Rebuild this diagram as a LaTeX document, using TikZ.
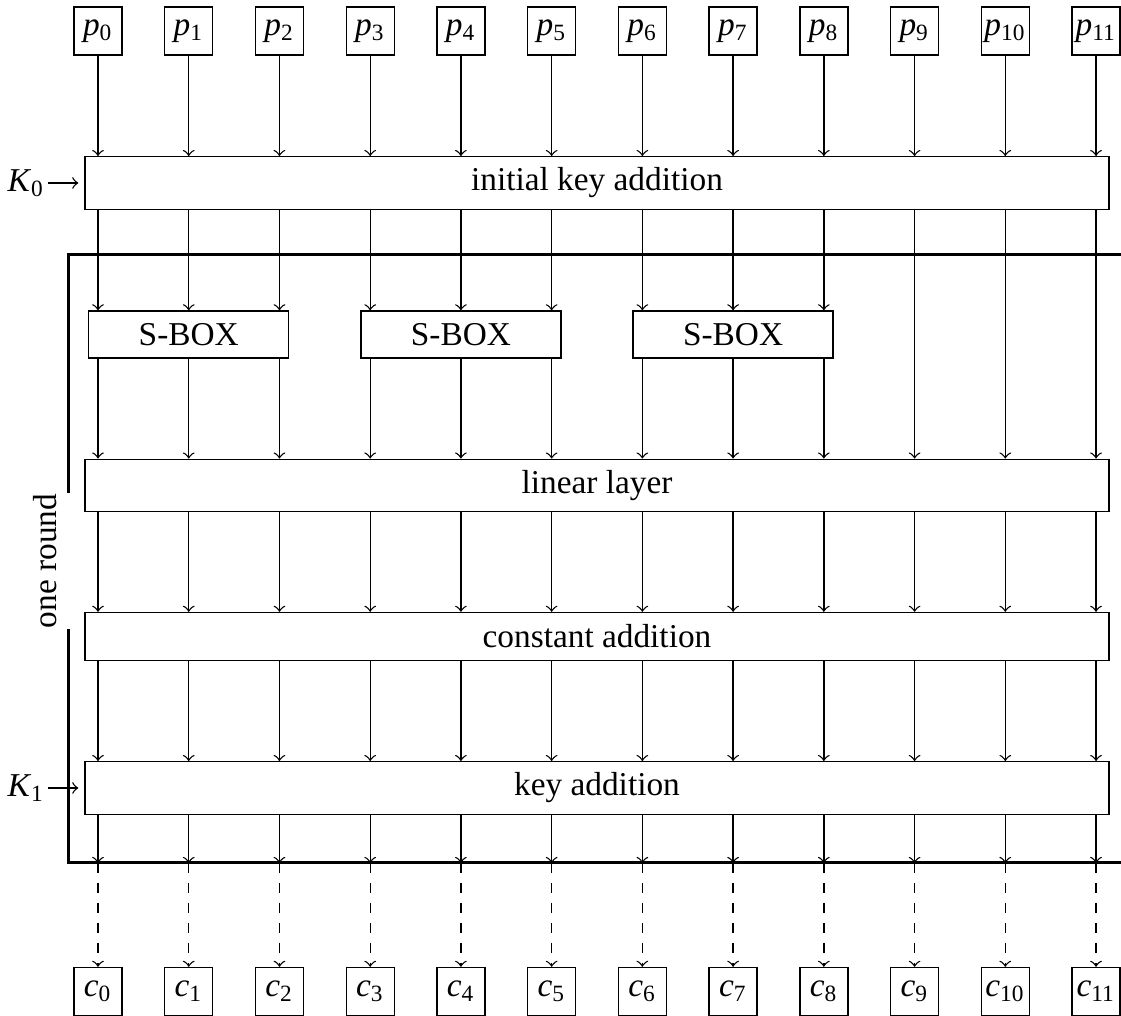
\documentclass[tikz,border=0pt]{standalone}
\usepackage{fontspec}
\setmainfont{Liberation Serif}
\newcommand{\sym}[2]{\textit{#1}\textsubscript{#2}}

\begin{document}
\begin{tikzpicture}[x=0.3pt,y=-0.3pt,>=to,font=\fontsize{10}{12}\selectfont,
    bit/.style={draw,minimum width=14.4pt,minimum height=14.4pt,inner sep=0.5pt},
    layer/.style={draw,minimum width=307.2pt,minimum height=14.4pt},
    sbox/.style={draw,minimum width=60pt,minimum height=14.1pt},
    frame/.style={line width=0.9pt}]
    \useasboundingbox (0,0) rectangle (1121,1016);

    % plaintext and ciphertext bits
    \foreach \i in {0,...,11} {
        \pgfmathsetmacro\xc{98+90.73*\i}
        \node[bit] (p\i) at (\xc,31) {\sym{p}{\i}};
        \node[bit] (c\i) at (\xc,991.5) {\sym{c}{\i}};
    }

    % layers
    \node[layer] (init)  at (597,183)   {initial key addition};
    \node[layer] (lin)   at (597,485.5) {linear layer};
    \node[layer] (const) at (597,636.5) {constant addition};
    \node[layer] (key)   at (597,788)   {key addition};
    \foreach \j/\col in {0/1,1/4,2/7}
        \node[sbox] (s\j) at (p\col |- 0,334.5) {S-BOX};

    % round keys
    \node[inner sep=1pt] (k0) at (26,183) {\sym{K}{0}};
    \node[inner sep=1pt] (k1) at (26,788) {\sym{K}{1}};
    \draw[->,shorten >=1.8pt] (k0) -- (init);
    \draw[->,shorten >=1.8pt] (k1) -- (key);

    % round frame
    \coordinate (ftl) at (68,255);
    \coordinate (fbl) at (68,863);
    \coordinate (ftr) at (1121,255);
    \coordinate (fbr) at (1121,863);
    \node[rotate=90,inner sep=0pt] (round) at (45,561) {one round};
    \draw[frame] (ftr) -- (ftl) -- (ftl |- round.east);
    \draw[frame] (fbl |- round.west) -- (fbl) -- (fbr);

    % wires
    \foreach \i in {0,...,11} {
        \draw[->] (p\i) -- (p\i |- init.north);
        \draw[->] (lin.south -| p\i) -- (const.north -| p\i);
        \draw[->] (const.south -| p\i) -- (key.north -| p\i);
        \coordinate (o\i) at (fbl -| p\i);
        \draw[->] (key.south -| p\i) -- (o\i);
        \draw[->,dashed] (o\i) -- (c\i);
    }
    \foreach \i in {0,...,8} {
        \pgfmathtruncatemacro\j{\i/3}
        \draw[->] (init.south -| p\i) -- (s\j.north -| p\i);
        \draw[->] (s\j.south -| p\i) -- (lin.north -| p\i);
    }
    \foreach \i in {9,10,11}
        \draw[->] (init.south -| p\i) -- (lin.north -| p\i);
\end{tikzpicture}
\end{document}
